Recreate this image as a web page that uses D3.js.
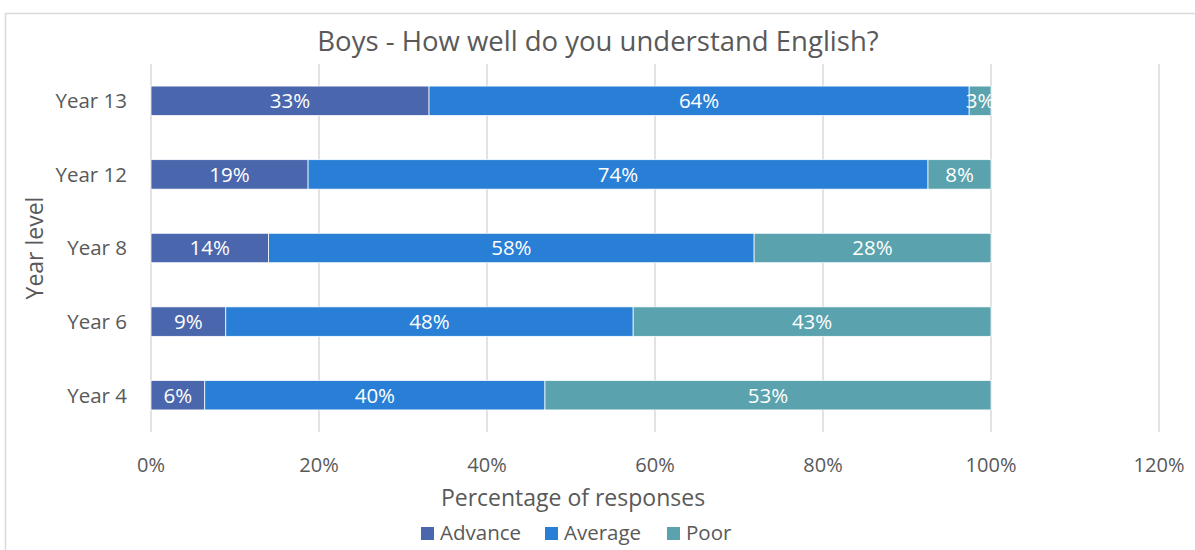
<!DOCTYPE html>
<html><head><meta charset="utf-8">
<script src="https://cdn.jsdelivr.net/npm/d3@7"></script>
<style>body{margin:0;background:#fff;}svg{display:block;font-family:'Open Sans',Lato,sans-serif;}</style>
</head><body>
<svg id="c" width="1195" height="550"></svg>
<script>
const categories = ["Year 13", "Year 12", "Year 8", "Year 6", "Year 4"];
const seriesNames = ["Advance", "Average", "Poor"];
const advance = [33.1, 18.7, 14.0, 8.9, 6.4];
const average = [64.3, 73.8, 57.8, 48.5, 40.5];
const poor = [2.6, 7.5, 28.2, 42.6, 53.1];
const labelsAdvance = ["33%", "19%", "14%", "9%", "6%"];
const labelsAverage = ["64%", "74%", "58%", "48%", "40%"];
const labelsPoor = ["3%", "8%", "28%", "43%", "53%"];
const xTicks = [0, 20, 40, 60, 80, 100, 120];
const colors = ["#4A66AC", "#297FD5", "#5AA2AE"];

const svg = d3.select("#c");
const textColor = "#595959";
svg.append("rect").attr("x",5.5).attr("y",13.5).attr("width",1210).attr("height",600)
  .attr("fill","#fff").attr("stroke","#d9d9d9").attr("stroke-width",1.5);

const x = d3.scaleLinear().domain([0,120]).range([151,1159]);
const y = d3.scaleBand().domain(categories).range([64,432]).paddingInner(0.6).paddingOuter(0.3);

svg.append("g").selectAll("line").data(xTicks).join("line")
  .attr("x1",d=>x(d)).attr("x2",d=>x(d)).attr("y1",64).attr("y2",432)
  .attr("stroke","#d9d9d9").attr("stroke-width",1.5);

const stackData = categories.map((c,i)=>({cat:c, Advance:advance[i], Average:average[i], Poor:poor[i]}));
const stacked = d3.stack().keys(seriesNames)(stackData);
const allLabels = [labelsAdvance, labelsAverage, labelsPoor];

stacked.forEach((s,si)=>{
  const g = svg.append("g");
  g.selectAll("rect").data(s).join("rect")
    .attr("x",d=>x(d[0])).attr("width",d=>x(d[1])-x(d[0]))
    .attr("y",d=>y(d.data.cat)).attr("height",y.bandwidth())
    .attr("fill",colors[si]).attr("stroke","#fff").attr("stroke-width",0.75);
  g.selectAll("text").data(s).join("text")
    .attr("x",d=>(x(d[0])+x(d[1]))/2).attr("y",d=>y(d.data.cat)+y.bandwidth()/2)
    .attr("dy","0.36em").attr("text-anchor","middle").attr("fill","#fff")
    .attr("font-size",20.5).text((d,i)=>allLabels[si][i]);
});

svg.append("g").selectAll("text").data(categories).join("text")
  .attr("x",127).attr("y",d=>y(d)+y.bandwidth()/2).attr("dy","0.36em")
  .attr("text-anchor","end").attr("fill",textColor).attr("font-size",20.5).text(d=>d);

svg.append("g").selectAll("text").data(xTicks).join("text")
  .attr("x",d=>x(d)).attr("y",465).attr("dy","0.36em")
  .attr("text-anchor","middle").attr("fill",textColor).attr("font-size",20).text(d=>d+"%");

svg.append("text").attr("x",598).attr("y",41).attr("dy","0.36em").attr("text-anchor","middle")
  .attr("fill",textColor).attr("font-size",27.5).text("Boys - How well do you understand English?");
svg.append("text").attr("x",573).attr("y",498).attr("dy","0.36em").attr("text-anchor","middle")
  .attr("fill",textColor).attr("font-size",23).text("Percentage of responses");
svg.append("text").attr("transform","translate(35,248) rotate(-90)").attr("dy","0.36em").attr("text-anchor","middle")
  .attr("fill",textColor).attr("font-size",23).text("Year level");

const legX = [421, 545, 667];
const lg = svg.append("g");
seriesNames.forEach((n,i)=>{
  lg.append("rect").attr("x",legX[i]).attr("y",527).attr("width",13).attr("height",13).attr("fill",colors[i]);
  lg.append("text").attr("x",legX[i]+19).attr("y",533).attr("dy","0.36em").attr("fill",textColor)
    .attr("font-size",20.5).text(n);
});
</script>
</body></html>
